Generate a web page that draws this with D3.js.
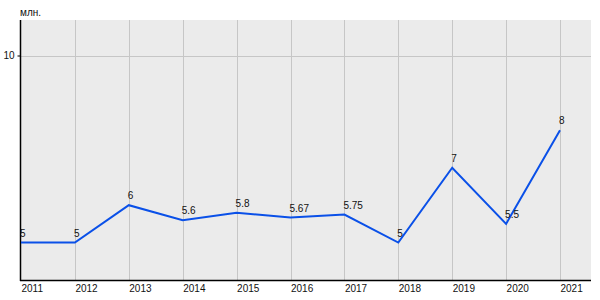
<!DOCTYPE html>
<html><head><meta charset="utf-8">
<script src="https://cdn.jsdelivr.net/npm/d3@7"></script>
<style>body{margin:0;background:#fff}svg{display:block}text{font-family:Arial,"Liberation Sans",sans-serif}</style>
</head><body><svg id="c" width="600" height="300"></svg>
<script>
const years = ["2011","2012","2013","2014","2015","2016","2017","2018","2019","2020","2021"];
const values = [5, 5, 6, 5.6, 5.8, 5.67, 5.75, 5, 7, 5.5, 8];
const valueLabels = ["5","5","6","5.6","5.8","5.67","5.75","5","7","5.5","8"];
const yTicks = [10];
const unitLabel = "млн.";

const svg = d3.select("#c");
const L = 20.5, R = 591, T = 20, B = 280;
const x = d3.scalePoint().domain(years).range([21, 560]);
const y = d3.scaleLinear().domain([4, 10]).range([280, 55.5]);

svg.append("rect").attr("x", L).attr("y", T).attr("width", R - L).attr("height", B - T).attr("fill", "#ebebeb");

// vertical grid
svg.append("g").selectAll("line").data(years.slice(1)).join("line")
  .attr("x1", d => Math.round(x(d)) + 0.5).attr("x2", d => Math.round(x(d)) + 0.5)
  .attr("y1", T).attr("y2", B).attr("stroke", "#c6c6c6").attr("stroke-width", 1);
// horizontal grid
svg.append("g").selectAll("line").data(yTicks).join("line")
  .attr("x1", L).attr("x2", R).attr("y1", d => Math.round(y(d)) + 0.5).attr("y2", d => Math.round(y(d)) + 0.5)
  .attr("stroke", "#c6c6c6");

// axes
const xAxis = svg.append("g").attr("transform", `translate(0,${B})`)
  .call(d3.axisBottom(x).tickSize(0).tickPadding(0));
xAxis.select(".domain").remove();
xAxis.selectAll("text").attr("text-anchor", "start").attr("dy", null).attr("y", 12)
  .attr("font-size", 10).attr("fill", "#111");
svg.append("line").attr("x1", L - 0.5).attr("x2", R).attr("y1", B + 0.5).attr("y2", B + 0.5).attr("stroke", "#000").attr("stroke-width", 1.5);

const yAxis = svg.append("g").attr("transform", `translate(${L},0)`)
  .call(d3.axisLeft(y).tickValues(yTicks).tickFormat(d3.format("d")).tickSize(3).tickPadding(3));
yAxis.select(".domain").remove();
yAxis.selectAll(".tick line").attr("stroke", "#000");
yAxis.selectAll("text").attr("font-size", 10).attr("fill", "#111");
svg.append("line").attr("x1", L).attr("x2", L).attr("y1", T).attr("y2", B + 1).attr("stroke", "#000").attr("stroke-width", 1.5);

svg.append("text").attr("x", 20).attr("y", 16).attr("font-size", 10).attr("fill", "#111").text(unitLabel);

// line
const line = d3.line().x((d, i) => x(years[i])).y(d => y(d));
svg.append("path").datum(values).attr("d", line).attr("fill", "none")
  .attr("stroke", "#0a50e8").attr("stroke-width", 2).attr("stroke-linejoin", "miter");

// value labels
svg.append("g").selectAll("text").data(values).join("text")
  .attr("x", (d, i) => x(years[i]) - 1).attr("y", d => y(d) - 6)
  .attr("font-size", 10).attr("fill", "#111")
  .text((d, i) => valueLabels[i]);
</script></body></html>
